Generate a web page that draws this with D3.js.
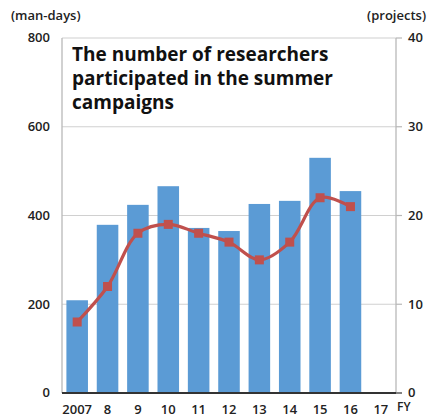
<!DOCTYPE html>
<html><head><meta charset="utf-8">
<script src="https://cdn.jsdelivr.net/npm/d3@7"></script>
<style>body{margin:0;background:#fff;} text{font-family:"Open Sans",sans-serif;}</style>
</head><body>
<svg id="c" width="427" height="417"></svg>
<script>
const years = ["2007","8","9","10","11","12","13","14","15","16","17"];
const manDays = [209, 379, 424, 466, 372, 365, 426, 433, 530, 455, null];
const projects = [8, 12, 18, 19, 18, 17, 15, 17, 22, 21, null];
const leftTicks = [0, 200, 400, 600, 800];
const rightTicks = [0, 10, 20, 30, 40];
const titleLines = ["The number of researchers", "participated in the summer", "campaigns"];

const svg = d3.select("#c");
const m = {l:62, r:396, t:38, b:393};
const x = d3.scaleBand().domain(years).range([m.l, m.r]).paddingInner(0.29).paddingOuter(0.145);
const yL = d3.scaleLinear().domain([0,800]).range([m.b, m.t]);
const yR = d3.scaleLinear().domain([0,40]).range([m.b, m.t]);

// gridlines
svg.append("g").selectAll("line").data(leftTicks.filter(d=>d>0)).join("line")
  .attr("x1", m.l).attr("x2", m.r).attr("y1", d=>yL(d)).attr("y2", d=>yL(d))
  .attr("stroke", "#d0d0d0").attr("stroke-width", 1.2);

// bars
svg.append("g").selectAll("rect").data(years.map((y,i)=>({y, v:manDays[i]})).filter(d=>d.v!=null)).join("rect")
  .attr("x", d=>x(d.y)).attr("width", x.bandwidth())
  .attr("y", d=>yL(d.v)).attr("height", d=>yL(0)-yL(d.v))
  .attr("fill", "#5b9bd5");

// axes lines
svg.append("line").attr("x1", m.l).attr("x2", m.l).attr("y1", m.t).attr("y2", m.b).attr("stroke", "#b8b8b8").attr("stroke-width", 1.3);
svg.append("line").attr("x1", m.r).attr("x2", m.r).attr("y1", m.t).attr("y2", m.b).attr("stroke", "#b8b8b8").attr("stroke-width", 1.3);
svg.append("line").attr("x1", m.l).attr("x2", m.r+6).attr("y1", m.b).attr("y2", m.b).attr("stroke", "#333").attr("stroke-width", 2);

// right ticks
svg.append("g").selectAll("line").data(rightTicks).join("line")
  .attr("x1", m.r).attr("x2", m.r+6).attr("y1", d=>yR(d)).attr("y2", d=>yR(d))
  .attr("stroke", "#b8b8b8").attr("stroke-width", 1.2);

// line
const pts = years.map((y,i)=>({y, v:projects[i]})).filter(d=>d.v!=null);
const line = d3.line().x(d=>x(d.y)+x.bandwidth()/2).y(d=>yR(d.v)).curve(d3.curveCatmullRom.alpha(0.5));
svg.append("path").datum(pts).attr("d", line).attr("fill","none").attr("stroke","#c0504d").attr("stroke-width",3.2);
svg.append("g").selectAll("rect").data(pts).join("rect")
  .attr("x", d=>x(d.y)+x.bandwidth()/2-4.5).attr("y", d=>yR(d.v)-4.5)
  .attr("width", 9).attr("height", 9).attr("fill", "#c0504d");

// tick labels
svg.append("g").selectAll("text").data(leftTicks).join("text")
  .attr("x", 50).attr("y", d=>yL(d)+1).attr("dominant-baseline","middle").attr("text-anchor","end")
  .attr("font-size", 13).attr("font-weight", 600).attr("fill","#222").text(d=>d);
svg.append("g").selectAll("text").data(rightTicks).join("text")
  .attr("x", 408).attr("y", d=>yR(d)+1).attr("dominant-baseline","middle").attr("text-anchor","start")
  .attr("font-size", 13).attr("font-weight", 600).attr("fill","#222").text(d=>d);
svg.append("g").selectAll("text").data(years).join("text")
  .attr("x", d=>x(d)+x.bandwidth()/2).attr("y", 414).attr("text-anchor","middle")
  .attr("font-size", 13).attr("font-weight", 600).attr("fill","#222").text(d=>d);
svg.append("text").attr("x", 397).attr("y", 411).attr("font-size", 12).attr("font-weight", 600).attr("fill","#222").text("FY");

svg.append("text").attr("x", 11).attr("y", 20).attr("font-size", 13).attr("font-weight", 600).attr("fill","#222").text("(man-days)");
svg.append("text").attr("x", 426).attr("y", 20).attr("text-anchor","end").attr("font-size", 13).attr("font-weight", 600).attr("fill","#222").text("(projects)");

// title
svg.append("g").selectAll("text").data(titleLines).join("text")
  .attr("x", 72).attr("y", (d,i)=>61+i*24)
  .attr("font-size", 19).attr("font-weight", 700).attr("fill","#111").text(d=>d);
</script>
</body></html>
